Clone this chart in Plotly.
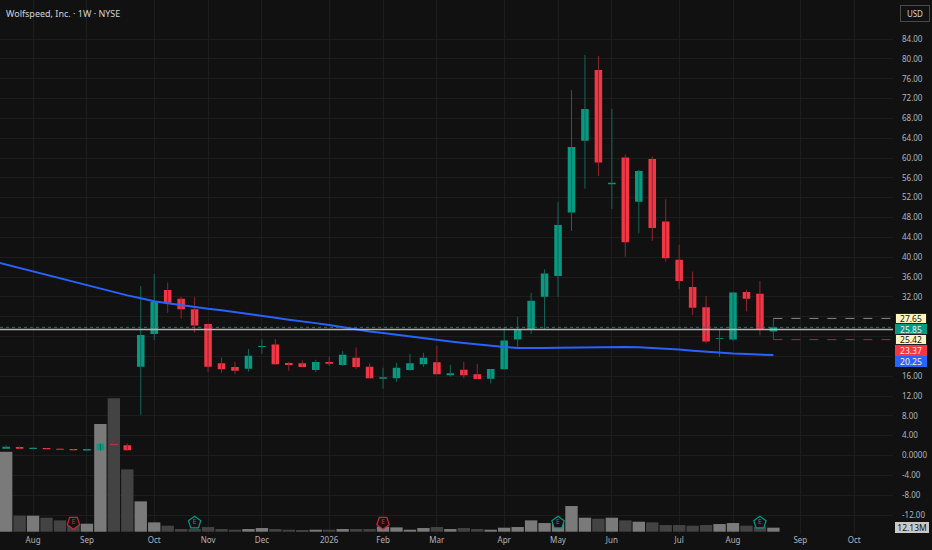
import pandas as pd
import plotly.graph_objects as go

# Weekly bars (Monday of each week)
weeks = pd.date_range("2025-07-21", periods=58, freq="7D")

opens = [1.37, 1.72, 1.31, 1.50, 1.37, 1.31, 1.00, 1.05, 2.32, 2.06,
         17.9, 24.5, 33.4, 31.6, 29.5, 26.5, 18.6, 17.85, 17.5, 21.9,
         22.4, 18.65, 18.6, 17.25, 18.85, 18.25, 19.7, 17.9, 15.5, 15.6,
         17.25, 18.4, 18.8, 16.2, 17.3, 16.4, 15.5, 17.4, 23.4, 25.5,
         32.0, 36.2, 49.0, 63.5, 77.75, 54.7, 60.1, 51.2, 59.8, 47.2,
         39.5, 34.0, 29.9, 23.55, 23.4, 33.0, 32.6, 25.0]
highs = [2.05, 1.85, 1.60, 1.55, 1.50, 1.33, 1.32, 2.40, 3.60, 2.38,
         34.2, 36.6, 34.9, 32.0, 32.0, 26.6, 19.8, 18.9, 21.5, 23.4,
         23.5, 18.9, 19.2, 19.3, 19.9, 21.1, 21.8, 18.6, 17.7, 18.7,
         20.5, 20.7, 22.1, 18.3, 18.9, 18.45, 17.45, 25.9, 28.0, 32.8,
         37.55, 51.1, 73.7, 80.8, 80.6, 69.9, 60.75, 57.6, 60.3, 51.7,
         42.5, 37.1, 32.2, 25.3, 33.0, 33.45, 35.2, 27.65]
lows = [1.35, 1.35, 1.28, 1.20, 1.15, 1.02, 0.98, 1.00, 2.15, 1.00,
        8.2, 23.3, 28.8, 27.6, 24.8, 16.9, 16.7, 16.4, 16.9, 20.5,
        18.3, 17.1, 17.85, 16.8, 18.05, 18.05, 17.4, 15.6, 13.5, 14.9,
        17.1, 17.9, 16.4, 15.9, 15.6, 15.4, 14.55, 17.4, 21.8, 24.5,
        25.3, 32.0, 45.3, 53.8, 56.4, 49.7, 40.1, 44.8, 43.3, 39.1,
        33.6, 28.3, 22.6, 19.9, 23.1, 29.1, 24.25, 23.37]
closes = [1.78, 1.37, 1.57, 1.24, 1.17, 1.05, 1.30, 2.38, 2.18, 1.05,
          24.3, 31.0, 30.8, 29.5, 26.2, 17.9, 17.4, 17.1, 20.1, 22.1,
          18.4, 18.25, 17.85, 18.85, 18.5, 20.3, 17.85, 15.6, 15.8, 17.7,
          18.6, 19.7, 16.4, 16.6, 16.2, 15.45, 17.45, 23.2, 25.45, 31.2,
          36.7, 46.5, 62.2, 69.9, 59.1, 55.0, 43.0, 57.4, 45.9, 39.8,
          35.2, 29.8, 23.0, 23.7, 32.9, 31.6, 25.42, 25.85]
# weekly volume, millions of shares
volume_m = [240, 48, 48, 42, 34, 20, 24, 323, 400, 187,
            91, 28, 18, 8, 8, 14, 8, 6, 8, 11,
            8, 6, 4, 6, 6, 8, 8, 8, 15, 13,
            6, 11, 14, 8, 11, 8, 6, 12, 14, 34,
            26, 25, 77, 42, 39, 42, 34, 30, 28, 20,
            20, 18, 20, 23, 26, 18, 15, 12.13]

# moving average (starts one week before the first visible bar)
ma_weeks = pd.date_range("2025-07-14", periods=59, freq="7D")
ma_values = [39.2, 38.5, 37.8, 37.1, 36.4, 35.7, 35.0, 34.3, 33.6, 32.9,
             32.3, 31.7, 31.1, 30.7, 30.3, 29.95, 29.6, 29.3, 28.95, 28.6,
             28.2, 27.8, 27.4, 27.1, 26.7, 26.3, 25.85, 25.4, 25.0, 24.7,
             24.35, 24.0, 23.6, 23.3, 23.0, 22.7, 22.4, 22.15, 21.9, 21.7,
             21.65, 21.7, 21.75, 21.8, 21.85, 21.9, 21.9, 21.9, 21.85, 21.75,
             21.6, 21.4, 21.15, 20.9, 20.7, 20.55, 20.45, 20.35, 20.25]

month_ticks = ["2025-08-04", "2025-09-01", "2025-10-06", "2025-11-03", "2025-12-01",
               "2026-01-05", "2026-02-02", "2026-03-02", "2026-04-06", "2026-05-04",
               "2026-06-01", "2026-07-06", "2026-08-03", "2026-09-07", "2026-10-05"]
month_labels = ["Aug", "Sep", "Oct", "Nov", "Dec", "2026", "Feb", "Mar", "Apr",
                "May", "Jun", "Jul", "Aug", "Sep", "Oct"]

price_ticks = list(range(-12, 85, 4))
hidden_ticks = [20, 24, 28]  # covered by the price labels
price_text = []
for v in price_ticks:
    if v in hidden_ticks:
        price_text.append("")
    elif v == 0:
        price_text.append("0.0000")
    else:
        price_text.append(f"{v:.2f}")

earn_dates = ["2025-08-25", "2025-10-27", "2026-02-02", "2026-05-04", "2026-08-17", "2026-10-26"]
earn_kind = ["miss", "beat", "miss", "beat", "beat", "next"]

last_high, last_low, last_close, prev_close, ma_last = 27.65, 23.37, 25.85, 25.42, 20.25

BG = "#111111"
GRID = "#1d1d1d"
TXT = "#b2b5be"
UP, DOWN = "#089981", "#f23645"
UP_WICK, DOWN_WICK = "#12685a", "#93252f"

x_start = weeks[0] - pd.Timedelta(days=3.2)
x_end = weeks[0] + pd.Timedelta(days=461.2)

fig = go.Figure()

# volume (base axis, drawn underneath)
vol_colors = ["#7a7a7a" if c >= o else "#434343" for o, c in zip(opens, closes)]
fig.add_trace(go.Bar(x=weeks, y=volume_m, marker=dict(color=vol_colors, line_width=0),
                     yaxis="y", hoverinfo="skip"))

# earnings markers
for kind, col, ang in [("miss", "#c9283c", 180), ("beat", "#089981", 0), ("next", "#e0457a", 180)]:
    ds = [d for d, k in zip(earn_dates, earn_kind) if k == kind]
    fig.add_trace(go.Scatter(
        x=ds, y=[27] * len(ds), mode="markers+text", text=["E"] * len(ds),
        textposition="middle center", textfont=dict(color=col, size=7, family="Noto Sans"),
        marker=dict(symbol="pentagon", size=13, angle=ang, color="#161012",
                    line=dict(color=col, width=1.2)),
        yaxis="y", cliponaxis=False, hoverinfo="skip"))

# wicks
for up, col in [(True, UP_WICK), (False, DOWN_WICK)]:
    xs, ys = [], []
    for d, o, h, l, c in zip(weeks, opens, highs, lows, closes):
        if (c >= o) == up:
            xs += [d, d, None]
            ys += [l, h, None]
    fig.add_trace(go.Scatter(x=xs, y=ys, mode="lines", line=dict(color=col, width=1),
                             yaxis="y2", hoverinfo="skip"))

# candle bodies
fig.add_trace(go.Candlestick(
    x=weeks, open=opens, high=highs, low=lows, close=closes,
    increasing=dict(line=dict(color=UP, width=0), fillcolor=UP),
    decreasing=dict(line=dict(color=DOWN, width=0), fillcolor=DOWN),
    whiskerwidth=0, yaxis="y2", hoverinfo="skip"))

# moving average
fig.add_trace(go.Scatter(x=ma_weeks, y=ma_values, mode="lines",
                         line=dict(color="#2962ff", width=2), yaxis="y2", hoverinfo="skip"))

shapes = [
    dict(type="line", xref="paper", x0=0, x1=1, yref="y2", y0=prev_close, y1=prev_close,
         line=dict(color="#b8b8b8", width=1.5), layer="above"),
    dict(type="line", xref="paper", x0=0, x1=1, yref="y2", y0=last_close, y1=last_close,
         line=dict(color="#1d7a69", width=1, dash="dot"), layer="above"),
    dict(type="line", xref="x", x0=weeks[-1], x1=x_end, yref="y2", y0=last_high, y1=last_high,
         line=dict(color="#8a8a8a", width=1, dash="dash"), layer="above"),
    dict(type="line", xref="x", x0=weeks[-1], x1=x_end, yref="y2", y0=last_low, y1=last_low,
         line=dict(color="#a8283a", width=1, dash="dash"), layer="above"),
]

annotations = [
    dict(text="Wolfspeed, Inc. · 1W · NYSE", xref="paper", yref="paper", x=0.005, y=1,
         xanchor="left", yanchor="top", yshift=-5, showarrow=False,
         font=dict(color="#d1d4dc", size=9, family="Noto Sans")),
    dict(text="USD", xref="paper", yref="paper", x=1, y=1, xanchor="left", yanchor="top",
         xshift=7, yshift=-5, showarrow=False, font=dict(color="#d1d4dc", size=8, family="Noto Sans"),
         bordercolor="#4a4a4a", borderwidth=1, borderpad=2, width=24, bgcolor=BG),
]

# stacked price-scale labels
scale_labels = [(last_high, "#fff3c4", "#131313", "#222222"),
                (last_close, UP, "#f0f0f0", UP),
                (prev_close, "#fff3c4", "#131313", "#222222"),
                (last_low, DOWN, "#fff3c4", DOWN),
                (ma_last, "#2962ff", "#fff3c4", "#2962ff")]
for k, (val, bg, fg, bc) in enumerate(scale_labels):
    annotations.append(dict(
        text=f"{val:.2f}", xref="paper", yref="y2", x=1, y=last_high, xanchor="left",
        yanchor="middle", xshift=2, yshift=-10.7 * k, showarrow=False,
        font=dict(color=fg, size=8.5, family="Noto Sans"), bgcolor=bg, bordercolor=bc,
        borderwidth=1, borderpad=0, width=30, height=9))
annotations.append(dict(
    text=f"{volume_m[-1]:.2f}M", xref="paper", yref="y", x=1, y=volume_m[-1], xanchor="left",
    yanchor="middle", xshift=2, showarrow=False, font=dict(color="#131313", size=8.5, family="Noto Sans"),
    bgcolor="#c9c9c9", bordercolor="#c9c9c9", borderwidth=1, borderpad=0, width=32, height=9))

fig.update_layout(
    width=932, height=550,
    paper_bgcolor=BG, plot_bgcolor=BG,
    margin=dict(l=0, r=39, t=0, b=16),
    showlegend=False,
    boxgap=0.2, bargap=0.08, barmode="overlay",
    font=dict(family="Noto Sans", color=TXT),
    xaxis=dict(type="date", range=[x_start, x_end], tickvals=month_ticks, ticktext=month_labels,
               showgrid=True, gridcolor=GRID, gridwidth=1, zeroline=False, showline=False,
               ticks="", tickfont=dict(size=8, color=TXT), rangeslider=dict(visible=False)),
    yaxis=dict(range=[-6.9, 1595], visible=False, showgrid=False, fixedrange=True),
    yaxis2=dict(overlaying="y", side="right", range=[-15.83, 91.87], tickvals=price_ticks,
                ticktext=price_text, showgrid=True, gridcolor=GRID, zeroline=False, showline=False,
                ticks="", ticklabelstandoff=8, tickfont=dict(size=8, color=TXT)),
    shapes=shapes,
    annotations=annotations,
)

# drop the default page margin so the figure fills the window
fig.write_html("out.html", config={"displayModeBar": False},
               post_script="document.body.style.margin='0';document.body.style.background='#111111';")
